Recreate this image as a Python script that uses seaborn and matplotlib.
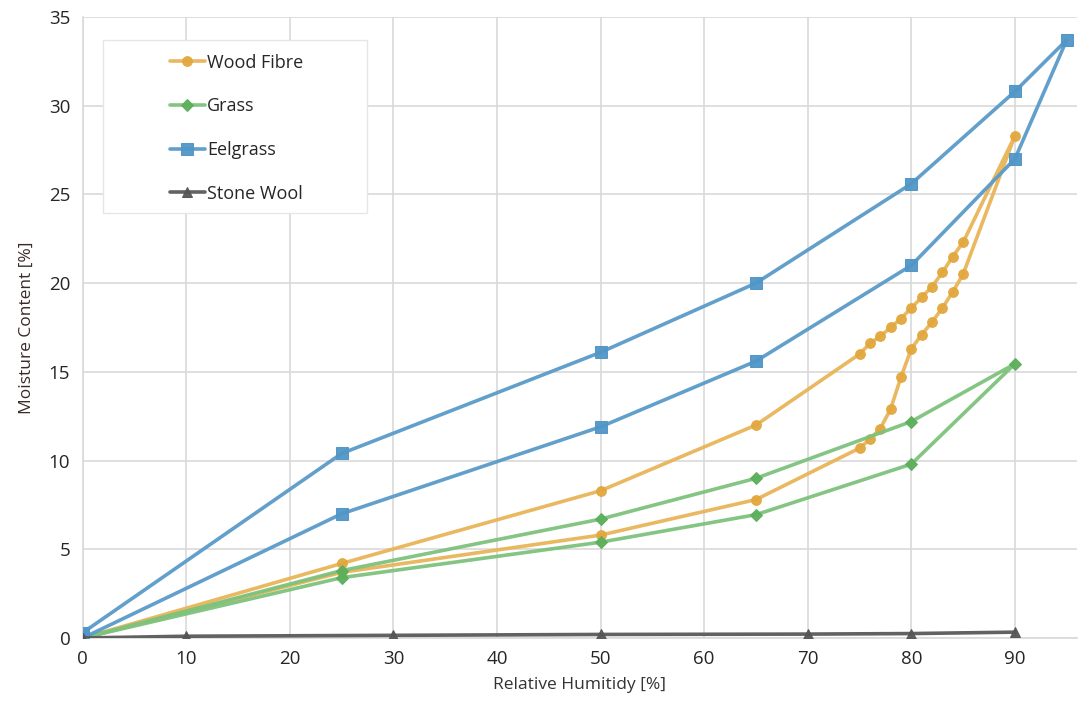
import seaborn as sns
import matplotlib.pyplot as plt
from matplotlib.patches import Rectangle
import pandas as pd

# Moisture sorption data (adsorption then desorption branch)
wood_rh = [0, 25, 50, 65, 75, 76, 77, 78, 79, 80, 81, 82, 83, 84, 85, 90,
           85, 84, 83, 82, 81, 80, 79, 78, 77, 76, 75, 65, 50, 25, 0]
wood_mc = [0, 4.2, 8.3, 12.0, 16.0, 16.6, 17.0, 17.5, 18.0, 18.6, 19.2, 19.8, 20.6, 21.5, 22.3, 28.3,
           20.5, 19.5, 18.6, 17.8, 17.1, 16.3, 14.7, 12.9, 11.8, 11.2, 10.7, 7.8, 5.8, 3.7, 0]

grass_rh = [0, 25, 50, 65, 80, 90, 80, 65, 50, 25, 0]
grass_mc = [0, 3.8, 6.7, 9.0, 12.2, 15.45, 9.8, 6.95, 5.4, 3.4, 0]

eel_rh = [0, 25, 50, 65, 80, 90, 95, 90, 80, 65, 50, 25, 0]
eel_mc = [0.3, 10.4, 16.1, 20.0, 25.6, 30.8, 33.7, 27.0, 21.0, 15.6, 11.9, 7.0, 0]

stone_rh = [0, 10, 30, 50, 70, 80, 90]
stone_mc = [0, 0.1, 0.15, 0.2, 0.22, 0.25, 0.33]

series = [
    ("Wood Fibre", wood_rh, wood_mc, "#E8B457", "#E2A83E", "o", 7),
    ("Grass", grass_rh, grass_mc, "#7DC27D", "#5BAF5B", "D", 6),
    ("Eelgrass", eel_rh, eel_mc, "#5A9BC9", "#5096C6", "s", 8),
    ("Stone Wool", stone_rh, stone_mc, "#5A5A5A", "#555555", "^", 7),
]

sns.set_style("white")
plt.rcParams['font.family'] = ['Open Sans', 'DejaVu Sans']

fig = plt.figure(figsize=(10.89, 7.07), dpi=100)
ax = fig.add_axes([0.076, 0.0976, 0.913, 0.8784])

for name, x, y, col, mcol, mk, ms in series:
    df = pd.DataFrame({"rh": x, "mc": y})
    sns.lineplot(data=df, x="rh", y="mc", sort=False, estimator=None, ax=ax,
                 color=col, linewidth=2.6, marker=mk, markersize=ms,
                 markerfacecolor=mcol, markeredgecolor=mcol, alpha=0.95,
                 label=name, zorder=3)

ax.set_xlim(0, 96)
ax.set_ylim(0, 35)
ax.set_xticks(range(0, 91, 10))
ax.set_yticks(range(0, 36, 5))
ax.grid(True, color="#D9D9D9", linewidth=1.2)
ax.set_axisbelow(True)
for s in ["top", "right"]:
    ax.spines[s].set_visible(False)
for s in ["left", "bottom"]:
    ax.spines[s].set_color("#D9D9D9")
    ax.spines[s].set_linewidth(1.2)
ax.tick_params(length=0, labelsize=13.5, pad=9)
ax.set_xlabel("Relative Humitidy [%]", fontsize=12.5, color="#333333", labelpad=6)
ax.set_ylabel("Moisture Content [%]", fontsize=12.5, color="#3a2a2a", labelpad=10)

# legend box (white panel with light border)
ax.add_patch(Rectangle((0.0201, 0.684), 0.2656, 0.279, transform=ax.transAxes,
                       facecolor="white", edgecolor="#E6E6E6", linewidth=1.0, zorder=4))
leg = ax.legend(loc="upper left", bbox_to_anchor=(0.088, 0.941), fontsize=13,
                frameon=False, borderpad=0, labelspacing=1.42,
                handlelength=1.9, handletextpad=0.15, borderaxespad=0)
leg.set_zorder(5)

fig.savefig("out.png", dpi=100)
